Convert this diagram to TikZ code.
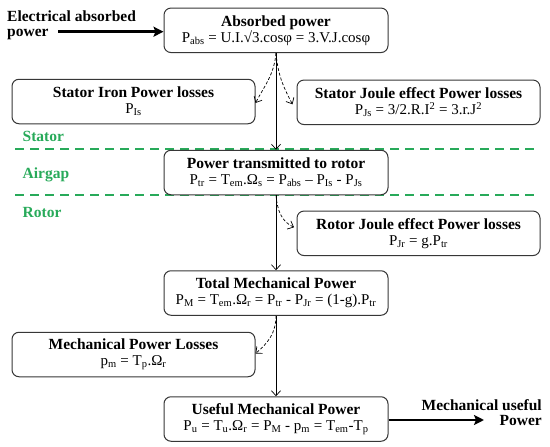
\documentclass[tikz,border=0pt]{standalone}
\usepackage{fontspec}
\setmainfont{Liberation Serif}
\usetikzlibrary{arrows.meta}
\definecolor{zonegreen}{RGB}{40,170,90}
\definecolor{boxline}{RGB}{55,55,55}
\newcommand{\ttl}[1]{{\fontsize{15.5}{16}\selectfont\bfseries #1}}
\newcommand{\sbs}[1]{\textsubscript{#1}}
\newcommand{\sps}[1]{\textsuperscript{#1}}
\begin{document}
\begin{tikzpicture}[x=1pt,y=-1pt,
  box/.style={draw=boxline,line width=1pt,rounded corners=7pt,fill=white,
     minimum height=44.5pt,align=center,inner sep=2pt,
     font=\fontsize{15}{16}\selectfont},
  cbox/.style={box,minimum width=224pt},
  sbox/.style={box,minimum width=243pt},
  flow/.style={line width=0.7pt,-{Straight Barb[length=5pt,width=9pt]}},
  loss/.style={line width=0.7pt,dash pattern=on 3pt off 2pt,-{Straight Barb[length=5pt,width=9pt]}},
  zone/.style={zonegreen,line width=1.8pt,dash pattern=on 9pt off 6pt},
  zlabel/.style={text=zonegreen,anchor=west,font=\fontsize{15.5}{17}\selectfont\bfseries,inner sep=0pt},
  big/.style={line width=2.8pt,-{Stealth[length=10pt,width=10pt,inset=2pt]}},
  side/.style={font=\fontsize{15.5}{14.5}\selectfont\bfseries,inner sep=0pt}
]
\useasboundingbox (0,0) rectangle (550,447);
% zone separators
\draw[zone] (15,149) -- (537,149);
\draw[zone] (15,195) -- (537,195);
\node[zlabel] (stator) at (22.5,136) {Stator};
\node[zlabel] (airgap) at (22.5,175) {Airgap};
\node[zlabel] (rotor) at (22.5,213) {Rotor};
% boxes
\node[cbox] (abs) at (276,30.3) {\ttl{Absorbed power}\\P\sbs{abs} = U.I.√3.cosφ = 3.V.J.cosφ};
\node[sbox] (iron) at (133.5,101.5) {\ttl{Stator Iron Power losses}\\P\sbs{Is}};
\node[sbox] (sjoule) at (418.5,102.3) {\ttl{Stator Joule effect Power losses}\\P\sbs{Js} = 3/2.R.I\sps{2} = 3.r.J\sps{2}};
\node[cbox] (ptr) at (276,172.5) {\ttl{Power transmitted to rotor}\\P\sbs{tr} = T\sbs{em}.Ω\sbs{s} = P\sbs{abs} – P\sbs{Is} - P\sbs{Js}};
\node[sbox] (rjoule) at (418.5,233.3) {\ttl{Rotor Joule effect Power losses}\\P\sbs{Jr} = g.P\sbs{tr}};
\node[cbox] (pm) at (276,293) {\ttl{Total Mechanical Power}\\P\sbs{M} = T\sbs{em}.Ω\sbs{r} = P\sbs{tr} - P\sbs{Jr} = (1-g).P\sbs{tr}};
\node[sbox] (mloss) at (133.5,354.5) {\ttl{Mechanical Power Losses}\\p\sbs{m} = T\sbs{p}.Ω\sbs{r}};
\node[cbox] (useful) at (276,419) {\ttl{Useful Mechanical Power}\\P\sbs{u} = T\sbs{u}.Ω\sbs{r} = P\sbs{M} - p\sbs{m} = T\sbs{em}-T\sbs{p}};
% main flow
\draw[flow] (abs.south) -- (ptr.north);
\draw[flow] (ptr.south) -- (pm.north);
\draw[flow] (pm.south) -- (useful.north);
% losses
\draw[loss] (abs.south) to[out=-95,in=62] ([yshift=-1.5pt]iron.east);
\draw[loss] (abs.south) to[out=-85,in=118] ([xshift=-4pt,yshift=-2pt]sjoule.west);
\draw[loss] (ptr.south) to[out=-85,in=155] ([xshift=-2.5pt,yshift=6pt]rjoule.west);
\draw[loss] (pm.south) to[out=-90,in=40] ([yshift=1pt]mloss.east);
% input / output
\node[side,anchor=north west,align=left] (inlab) at (7,11) {Electrical absorbed\\power};
\coordinate (instart) at (58,31.7);
\draw[big] (instart) -- (abs.west |- instart);
\coordinate (outend) at (484,420);
\draw[big] (useful.east |- outend) -- (outend);
\node[side,anchor=north east,align=right] (outlab) at (542,399.5) {Mechanical useful\\Power};
\end{tikzpicture}
\end{document}
